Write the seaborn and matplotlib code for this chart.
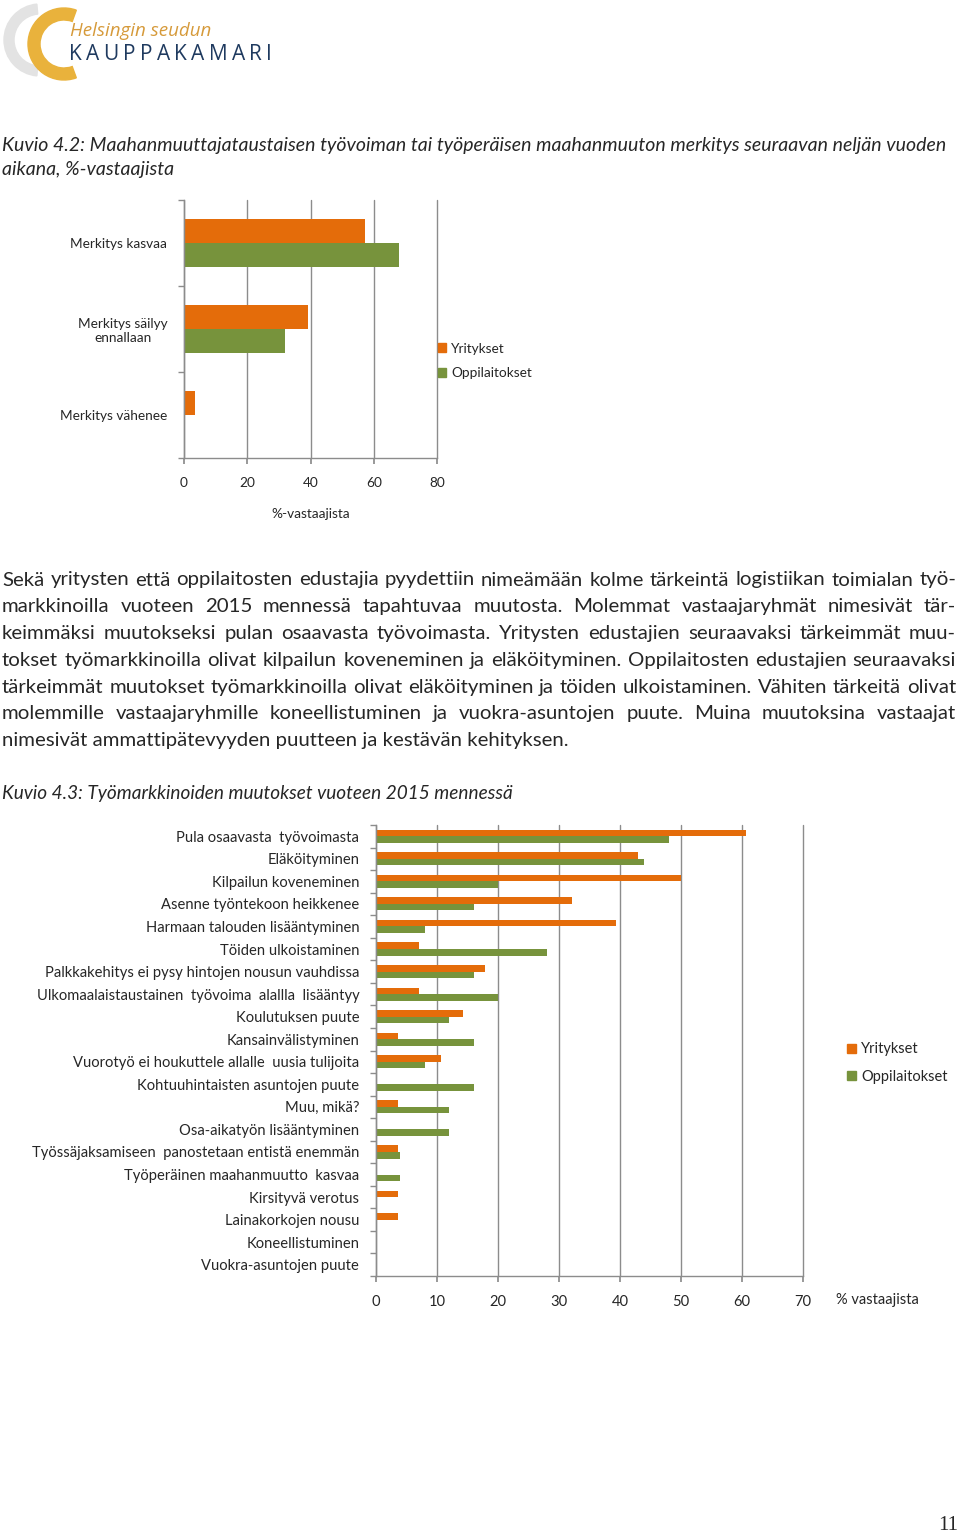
import matplotlib
matplotlib.use("Agg")
import matplotlib.pyplot as plt
import seaborn as sns
import pandas as pd
from matplotlib.patches import Patch, Wedge
from matplotlib.ticker import FixedLocator

# chart 1 data
impact_cats = ["Merkitys kasvaa", "Merkitys säilyy\nennallaan", "Merkitys vähenee"]
impact_yritykset = [57.1, 39.3, 3.6]
impact_oppilaitokset = [68.0, 32.0, 0.0]

# chart 2 data
change_cats = [
    "Pula osaavasta  työvoimasta",
    "Eläköityminen",
    "Kilpailun koveneminen",
    "Asenne työntekoon heikkenee",
    "Harmaan talouden lisääntyminen",
    "Töiden ulkoistaminen",
    "Palkkakehitys ei pysy hintojen nousun vauhdissa",
    "Ulkomaalaistaustainen  työvoima  alallla  lisääntyy",
    "Koulutuksen puute",
    "Kansainvälistyminen",
    "Vuorotyö ei houkuttele allalle  uusia tulijoita",
    "Kohtuuhintaisten asuntojen puute",
    "Muu, mikä?",
    "Osa-aikatyön lisääntyminen",
    "Työssäjaksamiseen  panostetaan entistä enemmän",
    "Työperäinen maahanmuutto  kasvaa",
    "Kirsityvä verotus",
    "Lainakorkojen nousu",
    "Koneellistuminen",
    "Vuokra-asuntojen puute",
]
change_yritykset = [60.7, 42.9, 50.0, 32.1, 39.3, 7.1, 17.9, 7.1, 14.3, 3.6,
                    10.7, 0.0, 3.6, 0.0, 3.6, 0.0, 3.6, 3.6, 0.0, 0.0]
change_oppilaitokset = [48.0, 44.0, 20.0, 16.0, 8.0, 28.0, 16.0, 20.0, 12.0, 16.0,
                        8.0, 16.0, 12.0, 12.0, 4.0, 4.0, 0.0, 0.0, 0.0, 0.0]

groups = ["Yritykset", "Oppilaitokset"]
colors = ["#E46C0A", "#77933C"]

title_42 = ["Kuvio 4.2: Maahanmuuttajataustaisen työvoiman tai työperäisen maahanmuuton merkitys seuraavan neljän vuoden",
            "aikana, %-vastaajista"]
body_lines = [
    "Sekä yritysten että oppilaitosten edustajia pyydettiin nimeämään kolme tärkeintä logistiikan toimialan työ-",
    "markkinoilla vuoteen 2015 mennessä tapahtuvaa muutosta. Molemmat vastaajaryhmät nimesivät tär-",
    "keimmäksi muutokseksi pulan osaavasta työvoimasta. Yritysten edustajien seuraavaksi tärkeimmät muu-",
    "tokset työmarkkinoilla olivat kilpailun koveneminen ja eläköityminen.  Oppilaitosten edustajien seuraavaksi",
    "tärkeimmät muutokset työmarkkinoilla olivat eläköityminen ja töiden ulkoistaminen. Vähiten tärkeitä olivat",
    "molemmille vastaajaryhmille koneellistuminen ja vuokra-asuntojen puute. Muina muutoksina vastaajat",
    "nimesivät ammattipätevyyden puutteen ja kestävän kehityksen.",
]
title_43 = "Kuvio 4.3: Työmarkkinoiden muutokset vuoteen 2015 mennessä"

sns.set_theme(style="white")
plt.rcParams["font.family"] = ["Lato", "DejaVu Sans"]

W, H = 960, 1534
fig = plt.figure(figsize=(W / 100, H / 100), dpi=100)
renderer = fig.canvas.get_renderer()


def fx(x):
    return x / W


def fy(y):
    return 1 - y / H


def long_df(cats, a, b):
    rows = []
    for c, va, vb in zip(cats, a, b):
        rows.append({"cat": c, "group": groups[0], "value": va})
        rows.append({"cat": c, "group": groups[1], "value": vb})
    return pd.DataFrame(rows)


def bar_chart(ax, df, n, width, xmax, step, fs):
    sns.barplot(data=df, y="cat", x="value", hue="group", orient="h",
                palette=colors, width=width, ax=ax, legend=False,
                saturation=1, linewidth=0)
    ax.set_xlim(0, xmax)
    ax.set_ylim(n - 0.5, -0.5)
    ax.set_xticks(range(0, xmax + 1, step))
    ax.grid(axis="x", color="#8c8c8c", linewidth=1)
    for gl in ax.get_xgridlines():
        gl.set_clip_on(False)
    ax.set_axisbelow(True)
    for s in ["top", "right"]:
        ax.spines[s].set_visible(False)
    for s in ["left", "bottom"]:
        ax.spines[s].set_color("#8c8c8c")
        ax.spines[s].set_linewidth(1)
    ax.yaxis.set_minor_locator(FixedLocator([k - 0.5 for k in range(n + 1)]))
    ax.tick_params(axis="y", which="major", length=0, labelsize=fs, pad=12)
    ax.tick_params(axis="y", which="minor", left=True, length=4, color="#8c8c8c", width=1)
    ax.tick_params(axis="x", which="major", bottom=True, length=4, color="#8c8c8c",
                   labelsize=fs, pad=10)
    ax.set_ylabel("")
    ax.set_xlabel("")


def justify(lines, x0, x1, ytop, step, fs, **kw):
    for i, line in enumerate(lines):
        y = fy(ytop + i * step)
        words = line.split()
        if i == len(lines) - 1:
            fig.text(fx(x0), y, " ".join(words), fontsize=fs, va="center", ha="left", **kw)
            continue
        texts = [fig.text(0, y, w, fontsize=fs, va="center", ha="left", **kw) for w in words]
        widths = [t.get_window_extent(renderer).width for t in texts]
        gap = (x1 - x0 - sum(widths)) / (len(words) - 1)
        x = x0
        for t, wd in zip(texts, widths):
            t.set_x(fx(x))
            x += wd + gap


def spaced(ax, x, y, s, gap, **kw):
    # letter-spaced caps
    for ch in s:
        t = ax.text(x, y, ch, va="center", ha="left", **kw)
        x += t.get_window_extent(renderer).width + gap


# logo
lax = fig.add_axes([0, fy(90), fx(300), 90 / H])
lax.set_xlim(0, 300)
lax.set_ylim(90, 0)
lax.axis("off")
lax.add_patch(Wedge((40, 40), 36, 95, 265, width=10, color="#e3e3e3"))
lax.add_patch(Wedge((64, 44), 36, 70, 290, width=12, color="#E9B23C"))
lax.text(70, 31, "Helsingin seudun", fontsize=13.5, style="italic", color="#D69A3A",
         va="center", ha="left", family=["Open Sans", "DejaVu Sans"])
spaced(lax, 69, 55, "KAUPPAKAMARI", 4.3, fontsize=15, color="#1F3A5F",
       family=["Open Sans", "DejaVu Sans"])

# titles and body text
fig.text(fx(2), fy(146), title_42[0], fontsize=14.0, style="italic", va="center")
fig.text(fx(2), fy(170), title_42[1], fontsize=14.0, style="italic", va="center")
justify(body_lines, 2, 956, 580, 26.8, 14.7)
fig.text(fx(2), fy(794), title_43, fontsize=13.7, style="italic", va="center")

# chart 1
ax1 = fig.add_axes([fx(184), fy(458), (437 - 184) / W, (458 - 200) / H])
df1 = long_df(impact_cats, impact_yritykset, impact_oppilaitokset)
bar_chart(ax1, df1, len(impact_cats), 0.56, 80, 20, 9.8)
for lab in ax1.get_yticklabels():
    lab.set_multialignment("center")
ax1.set_xlabel("%-vastaajista", fontsize=9.8, labelpad=13)
handles = [Patch(color=c) for c in colors]
fig.legend(handles, groups, loc="center left", bbox_to_anchor=(fx(426), fy(361)),
           frameon=False, fontsize=9.8, handlelength=0.6, handleheight=0.6,
           handletextpad=0.35, labelspacing=0.95)

# chart 2
ax2 = fig.add_axes([fx(376), fy(1276), (803 - 376) / W, (1276 - 825) / H])
df2 = long_df(change_cats, change_yritykset, change_oppilaitokset)
bar_chart(ax2, df2, len(change_cats), 0.58, 70, 10, 10.6)
fig.text(fx(836), fy(1300), "% vastaajista", fontsize=10.5, va="center", ha="left")
fig.legend(handles, groups, loc="center left", bbox_to_anchor=(fx(834), fy(1063)),
           frameon=False, fontsize=10.5, handlelength=0.6, handleheight=0.6,
           handletextpad=0.35, labelspacing=0.9)

# page number
fig.text(fx(958), fy(1525), "11", fontsize=15, ha="right", va="center",
         family=["Liberation Serif", "DejaVu Serif"])

fig.savefig("out.png", dpi=100)
